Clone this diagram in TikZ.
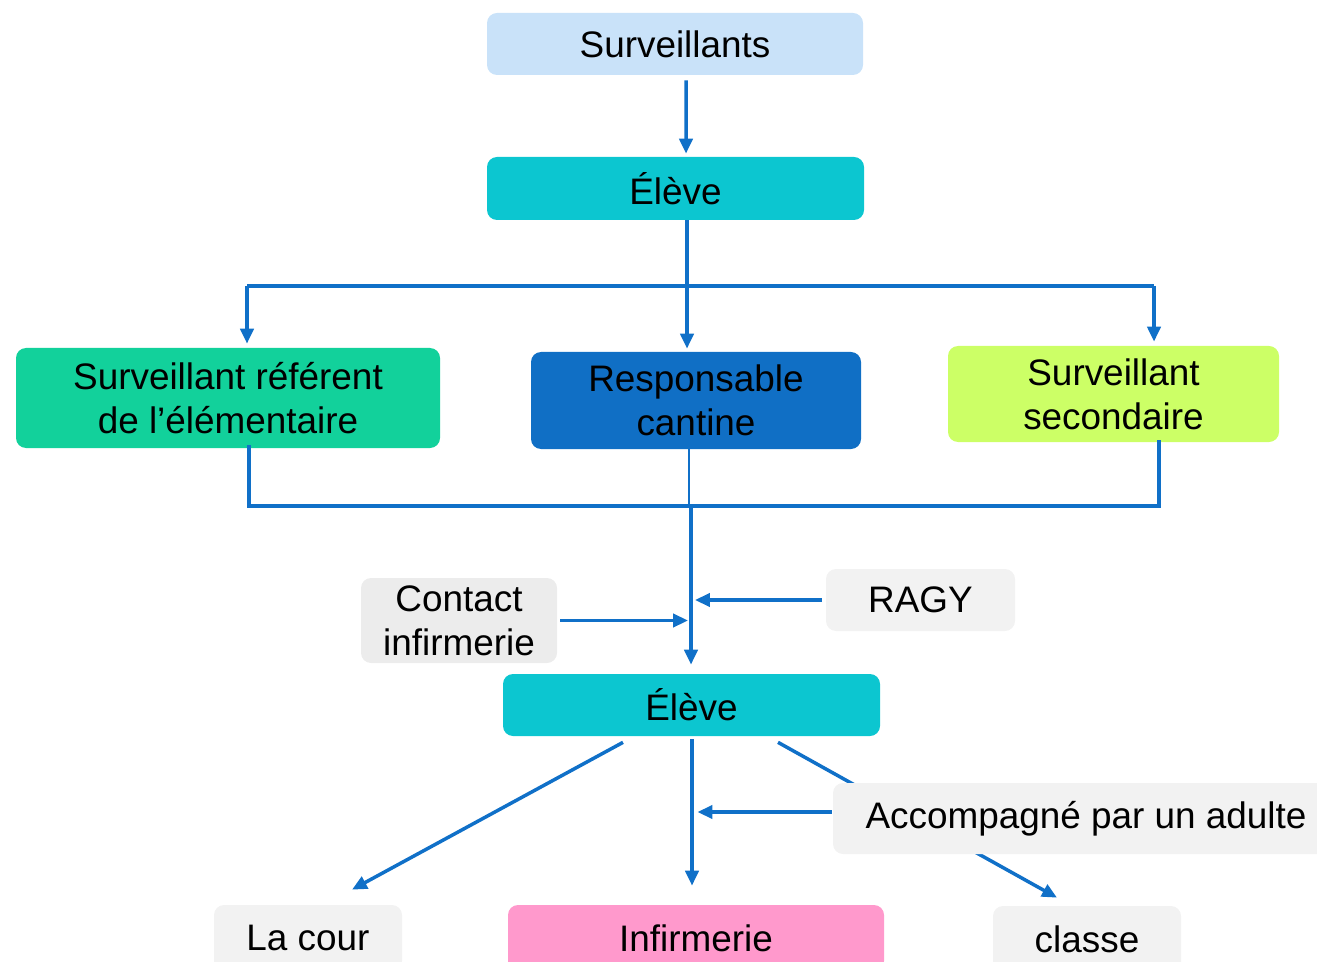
\documentclass[tikz,border=0pt]{standalone}
\usepackage{fontspec}
\setmainfont{Liberation Sans}
\usetikzlibrary{arrows.meta,calc}
\newlength\pxu \setlength\pxu{0.02cm}
\definecolor{lineblue}{RGB}{16,112,200}
\definecolor{survblue}{RGB}{201,226,249}
\definecolor{elevecyan}{RGB}{12,198,208}
\definecolor{refgreen}{RGB}{18,209,155}
\definecolor{cantblue}{RGB}{16,111,197}
\definecolor{seclime}{RGB}{204,255,102}
\definecolor{greybox}{RGB}{242,242,242}
\definecolor{greybox2}{RGB}{236,236,236}
\definecolor{infpink}{RGB}{255,153,204}
\begin{document}
\begin{tikzpicture}[x=0.02cm,y=-0.02cm,
  box/.style={rounded corners=10\pxu, inner sep=0pt, align=center, text=black,
    font=\fontsize{21}{25}\selectfont},
  arr/.style={draw=lineblue, line width=3.5\pxu, -{Triangle[length=8.5pt,width=7.5pt]}},
  ln/.style={draw=lineblue, line width=3.5\pxu},
  thinln/.style={draw=lineblue, line width=1.2\pxu},
]
\useasboundingbox (0,0) rectangle (1317,962);
\clip (0,0) rectangle (1317,962);

% nodes
\node[box, fill=survblue, minimum width=376\pxu, minimum height=62\pxu] (surv) at (675,44) {Surveillants};
\node[box, fill=elevecyan, minimum width=377\pxu, minimum height=63\pxu] (eleve1) at (675.5,188.5) {Élève};
\node[box, fill=refgreen, minimum width=424\pxu, minimum height=100\pxu] (ref) at (228,398) {Surveillant référent\\de l’élémentaire};
\node[box, fill=cantblue, minimum width=330\pxu, minimum height=97\pxu] (cant) at (696,400.5) {Responsable\\cantine};
\node[box, fill=seclime, minimum width=331\pxu, minimum height=96\pxu] (sec) at (1113.5,394) {Surveillant\\secondaire};
\node[box, fill=greybox2, minimum width=196\pxu, minimum height=85\pxu] (contact) at (459,620.5) {Contact\\infirmerie};
\node[box, fill=greybox, minimum width=189\pxu, minimum height=62\pxu] (ragy) at (920.5,600) {RAGY};
\node[box, fill=elevecyan, minimum width=377\pxu, minimum height=62\pxu] (eleve2) at (691.5,705) {Élève};
\node[box, fill=greybox, minimum width=188\pxu, minimum height=66\pxu] (cour) at (308,938) {La cour};
\node[box, fill=infpink, minimum width=376\pxu, minimum height=66\pxu] (inf) at (696,938) {Infirmerie};
\node[box, fill=greybox, minimum width=188\pxu, minimum height=66\pxu] (classe) at (1087,939) {classe};

% junction coordinates
\coordinate (j1) at (687,286);
\coordinate (jL) at (247,286);
\coordinate (jR) at (1154,286);
\coordinate (kL) at (249,506);
\coordinate (kR) at (1159,506);
\coordinate (kM) at (691,506);

% top part
\draw[arr] ([shift={(11,5)}]surv.south) -- ([shift={(10.5,-3)}]eleve1.north);
\draw[ln] (eleve1.south -| j1) -- (j1);
\draw[ln] (jL) -- (jR);
\draw[arr, shorten >=4\pxu] (jL) -- (jL |- ref.north);
\draw[arr, shorten >=3\pxu] ([yshift=4\pxu]j1) -- (j1 |- cant.north);
\draw[arr, shorten >=4\pxu] (jR) -- (jR |- sec.north);

% merge
\draw[ln] ([yshift=3\pxu]ref.south -| kL) -- (kL) -- (kR) -- ([yshift=2\pxu]kR |- sec.south);
\draw[thinln] ([yshift=2\pxu]cant.south -| 689,0) -- (689,506);
\draw[arr, shorten >=9\pxu] (kM) -- (kM |- eleve2.north);
\draw[arr, shorten >=3\pxu] ([xshift=3\pxu]contact.east) -- (kM |- contact.east);
\draw[arr, shorten >=4\pxu] ([xshift=-4\pxu]ragy.west) -- (kM |- ragy.west);

% bottom part
\draw[arr] ([shift={(-68.5,6)}]eleve2.south) -- ([shift={(44,-15)}]cour.north);
\draw[arr, shorten >=19\pxu] ([shift={(0.5,3)}]eleve2.south) -- ([xshift=0.5\pxu]eleve2.south |- inf.north);
\draw[arr] ([shift={(86.5,6)}]eleve2.south) -- ([shift={(-30,-8)}]classe.north);

\node[box, fill=greybox, minimum width=506\pxu, minimum height=71\pxu] (acc) at (1086,818.5) {\raisebox{-3\pxu}{Accompagné par un adulte}};
\draw[arr, shorten >=7\pxu] ([shift={(-1,-6.5)}]acc.west) -- ([shift={(-1,-6.5)}]acc.west -| eleve2.south);
\end{tikzpicture}
\end{document}
